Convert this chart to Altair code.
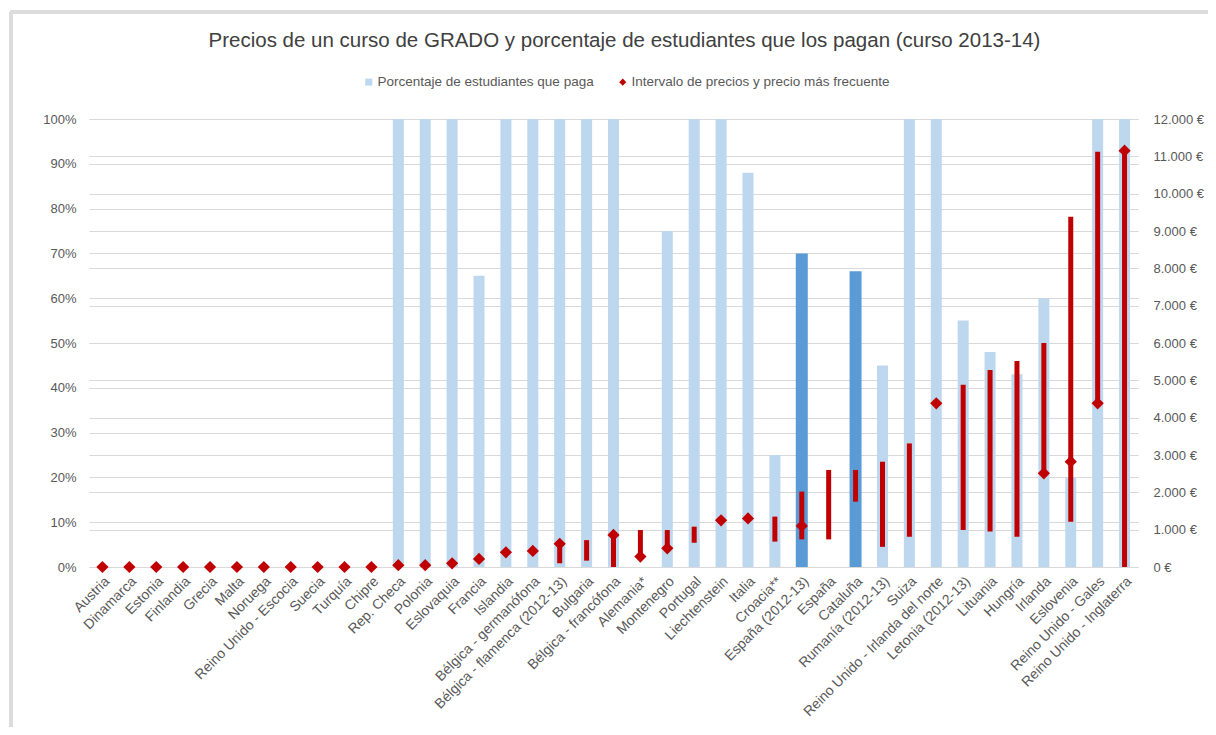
import altair as alt
import pandas as pd

paises = ["Austria", "Dinamarca", "Estonia", "Finlandia", "Grecia", "Malta", "Noruega",
          "Reino Unido - Escocia", "Suecia", "Turquía", "Chipre", "Rep. Checa", "Polonia",
          "Eslovaquia", "Francia", "Islandia", "Bélgica - germanófona",
          "Bélgica - flamenca (2012-13)", "Bulgaria", "Bélgica - francófona", "Alemania*",
          "Montenegro", "Portugal", "Liechtenstein", "Italia", "Croacia**", "España (2012-13)",
          "España", "Cataluña", "Rumanía (2012-13)", "Suiza", "Reino Unido - Irlanda del norte",
          "Letonia (2012-13)", "Lituania", "Hungría", "Irlanda", "Eslovenia",
          "Reino Unido - Gales", "Reino Unido - Inglaterra"]

# porcentaje de estudiantes que paga (fracción)
pct = [None] * 11 + [1.0, 1.0, 1.0, 0.65, 1.0, 1.0, 1.0, 1.0, 1.0, None,
                     0.75, 1.0, 1.0, 0.88, 0.25, 0.70, None, 0.66, 0.45, 1.0,
                     1.0, 0.55, 0.48, 0.43, 0.60, 0.20, 1.0, 1.0]

# intervalo de precios (€)
p_min = [None] * 17 + [100, 170, 0, 280, 500, 650, None, None, 680, 740, 740, 1750, 540,
                       810, None, 990, 950, 810, 2510, 1210, 4385, 0]
p_max = [None] * 17 + [620, 720, 860, 990, 990, 1080, None, None, 1350, 2020, 2600, 2600, 2820,
                       3310, None, 4880, 5280, 5520, 6000, 9380, 11125, 11150]
# precio más frecuente (€)
p_moda = [0] * 11 + [50, 50, 100, 215, 395, 430, 620, None, 860, 280, 500, None, 1250, 1300,
                     None, 1100, None, None, None, None, 4385, None, None, None, 2510, 2820,
                     4385, 11150]

destacados = ["España (2012-13)", "Cataluña"]

SERIE_BAR = "Porcentaje de estudiantes que paga"
SERIE_PRE = "Intervalo de precios y precio más frecuente"

df = pd.DataFrame({
    "pais": paises,
    "pct": pct,
    "pmin": p_min,
    "pmax": p_max,
    "pmoda": p_moda,
    "destacado": [p in destacados for p in paises],
})

FONT = "Liberation Sans"
GRAY = "#595959"
GRID = "#D9D9D9"
RED = "#C00000"

color_scale = alt.Scale(domain=[SERIE_BAR, SERIE_PRE], range=["#BDD7EE", RED])
shape_scale = alt.Scale(domain=[SERIE_BAR, SERIE_PRE], range=["square", "diamond"])
legend = alt.Legend(title=None, orient="none", direction="horizontal", legendX=273, legendY=-44,
                    labelFont=FONT, labelFontSize=13.5, labelColor=GRAY, symbolSize=50,
                    labelOffset=2, columnPadding=22, symbolStrokeWidth=0, labelLimit=500)

pct_scale = alt.Scale(domain=[0, 1], nice=False)
eur_scale = alt.Scale(domain=[0, 12000], nice=False)

pct_axis = alt.Axis(orient="left", values=[i / 10 for i in range(11)], format=".0%",
                    grid=True, gridColor=GRID, ticks=False, domain=False, title=None,
                    labelFont=FONT, labelFontSize=13, labelColor=GRAY, labelPadding=13)
eur_axis = alt.Axis(orient="right", values=list(range(0, 12001, 1000)),
                    labelExpr="replace(format(datum.value, ',d'), ',', '.') + ' €'",
                    grid=True, gridColor=GRID, ticks=False, domain=False, title=None,
                    labelFont=FONT, labelFontSize=13, labelColor=GRAY, labelPadding=15)

base = alt.Chart(df).encode(
    x=alt.X("pais:N", sort=paises, scale=alt.Scale(paddingInner=0, paddingOuter=0),
            axis=alt.Axis(title=None, labelAngle=-45, labelAlign="right", labelBaseline="top",
                          ticks=False, grid=False, domainColor=GRID, labelFont=FONT,
                          labelFontSize=14, labelColor=GRAY, labelPadding=7, labelOverlap=False,
                          labelLimit=400))
)

bars_light = base.transform_filter("isValid(datum.pct) && !datum.destacado").transform_calculate(
    serie=f"'{SERIE_BAR}'"
).mark_bar(size=11).encode(
    y=alt.Y("pct:Q", scale=pct_scale, axis=pct_axis),
    color=alt.Color("serie:N", scale=color_scale, legend=legend),
)

bars_dark = base.transform_filter("datum.destacado && isValid(datum.pct)").mark_bar(
    size=12, color="#5B9BD5"
).encode(
    y=alt.Y("pct:Q", scale=pct_scale, axis=pct_axis),
)

rules = base.transform_filter("isValid(datum.pmin)").mark_rule(strokeWidth=5, color=RED).encode(
    y=alt.Y("pmin:Q", scale=eur_scale, axis=eur_axis),
    y2="pmax:Q",
)

points = base.transform_filter("isValid(datum.pmoda)").transform_calculate(
    serie=f"'{SERIE_PRE}'"
).mark_point(filled=True, size=150, opacity=1).encode(
    y=alt.Y("pmoda:Q", scale=eur_scale, axis=eur_axis),
    color=alt.Color("serie:N", scale=color_scale, legend=legend),
    shape=alt.Shape("serie:N", scale=shape_scale, legend=legend),
)

frame = alt.Chart(df).mark_rule(color="#DCDCDC", strokeWidth=3).encode(
    x=alt.value(-78), y=alt.value(-107), y2=alt.value(640)
)
frame_top = alt.Chart(df).mark_rule(color="#DCDCDC", strokeWidth=3).encode(
    x=alt.value(-79), x2=alt.value(1140), y=alt.value(-107)
)

chart = alt.layer(
    frame, frame_top,
    alt.layer(bars_light, bars_dark),
    alt.layer(rules, points),
).resolve_scale(y="independent", color="shared", shape="shared").properties(
    width=1049, height=448,
    autosize=alt.AutoSizeParams(type="none"),
    padding={"left": 81, "top": 111, "right": 70, "bottom": 160},
    title=alt.TitleParams(
        "Precios de un curso de GRADO y porcentaje de estudiantes que los pagan (curso 2013-14)",
        font=FONT, fontSize=20.5, fontWeight="normal", color="#404040", anchor="middle",
        dx=11, offset=0, dy=41,
    ),
).configure_view(stroke=None)

chart.save("out.html", embed_options={"renderer": "svg", "actions": False})
